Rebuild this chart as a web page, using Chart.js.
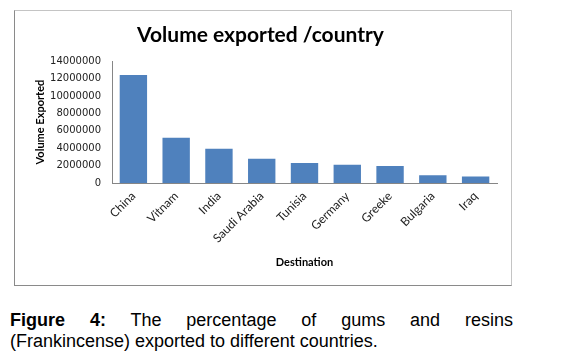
<!DOCTYPE html>
<html>
<head>
<meta charset="utf-8">
<script src="https://cdn.jsdelivr.net/npm/chart.js@4"></script>
<style>
  body { margin: 0; background: #fff; width: 562px; height: 360px; position: relative; overflow: hidden; }
  #frame { position: absolute; left: 14px; top: 10px; width: 496px; height: 274px;
           border: 1px solid #c4c4c4; border-left-color: #8a8a8a; border-bottom-color: #8a8a8a; }
  #c { position: absolute; left: 0; top: 0; }
  #cap { position: absolute; left: 10px; top: 310px; width: 503px;
         font-family: "Liberation Sans", Arial, sans-serif; font-size: 18px; line-height: 21px; color: #000; }
  #cap .l1 { text-align: justify; text-align-last: justify; }
</style>
</head>
<body>
<div id="frame"></div>
<canvas id="c" width="562" height="295"></canvas>
<div id="cap">
  <div class="l1"><b>Figure 4:</b> The percentage of gums and resins</div>
  <div>(Frankincense) exported to different countries.</div>
</div>
<script>
// destinations and exported volume
const countries = ["China", "Vitnam", "India", "Saudi Arabia", "Tunisia", "Germany", "Greeke", "Bulgaria", "Iraq"]
const volumes = [12400000, 5200000, 3950000, 2800000, 2300000, 2100000, 1950000, 900000, 750000]
const yTicks = [0, 2000000, 4000000, 6000000, 8000000, 10000000, 12000000, 14000000]

const axisGray = "#868686"

const config = {
  type: 'bar',
  data: {
    labels: countries,
    datasets: [{
      label: 'Volume exported',
      data: volumes,
      backgroundColor: '#4f81bd',
      borderWidth: 0,
      categoryPercentage: 1,
      barPercentage: 0.64
    }]
  },
  options: {
    responsive: false,
    animation: false,
    layout: {
      padding: { left: 24, right: 65, top: 10, bottom: 20 }
    },
    plugins: {
      legend: { display: false },
      tooltip: { enabled: false },
      title: {
        display: true,
        text: 'Volume exported /country',
        color: '#000',
        font: { family: 'Lato', size: 21, weight: 'bold' },
        padding: { top: 13, bottom: 13 }
      }
    },
    scales: {
      y: {
        min: 0,
        max: 14000000,
        afterBuildTicks: (s) => { s.ticks = yTicks.map(v => ({ value: v })) },
        afterFit: (s) => { s.width = 88 },
        grid: { display: false, drawTicks: false },
        border: { color: axisGray },
        ticks: {
          color: '#222',
          padding: 11,
          font: { family: 'DejaVu Sans', size: 10 },
          callback: (v) => String(v)
        },
        title: {
          display: true,
          text: 'Volume Exported',
          color: '#000',
          font: { family: 'Lato', size: 11, weight: 'bold' },
          padding: { top: 10, bottom: 0 }
        }
      },
      x: {
        afterFit: (s) => { s.height = 92 },
        grid: { display: false, drawTicks: false },
        border: { color: axisGray },
        ticks: {
          color: '#222',
          minRotation: 45,
          maxRotation: 45,
          padding: 6,
          font: { family: 'Lato', size: 12 }
        },
        title: {
          display: true,
          text: 'Destination',
          color: '#000',
          font: { family: 'Lato', size: 11, weight: 'bold' },
          padding: { top: 4, bottom: 6 }
        }
      }
    }
  }
}

const volumeChart = new Chart(document.getElementById('c'), config)
</script>
</body>
</html>
